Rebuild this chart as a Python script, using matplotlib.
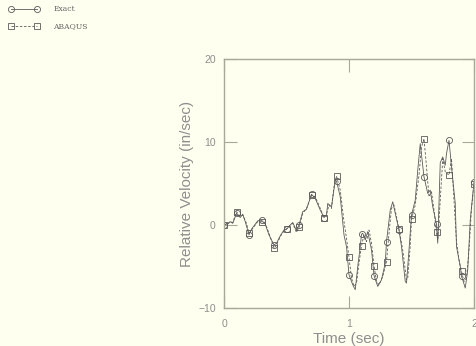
import numpy as np
import matplotlib
matplotlib.use("Agg")
import matplotlib.pyplot as plt

# relative velocity histories (time in sec, velocity in in/sec)
t_exact = [0.00, 0.03, 0.05, 0.07, 0.10, 0.13, 0.15, 0.17, 0.20, 0.22,
           0.25, 0.27, 0.30, 0.33, 0.36, 0.40, 0.42, 0.45, 0.48, 0.50,
           0.53, 0.55, 0.58, 0.60, 0.63, 0.66, 0.70, 0.73, 0.77, 0.80,
           0.82, 0.83, 0.86, 0.89, 0.90, 0.93, 0.96, 0.98, 1.00, 1.03,
           1.05, 1.07, 1.09, 1.10, 1.11, 1.13, 1.15, 1.18, 1.20, 1.23,
           1.26, 1.29, 1.30, 1.33, 1.35, 1.37, 1.40, 1.42, 1.45, 1.46,
           1.48, 1.50, 1.53, 1.55, 1.57, 1.60, 1.63, 1.65, 1.67, 1.70,
           1.71, 1.73, 1.75, 1.77, 1.78, 1.80, 1.82, 1.85, 1.86, 1.89,
           1.90, 1.91, 1.93, 1.95, 1.97, 2.00]
v_exact = [0.0, 0.2, 0.4, 0.2, 1.4, 0.9, 1.3, 0.4, -1.2, -0.5,
           0.1, 0.5, 0.6, 0.1, -1.2, -2.4, -2.2, -1.3, -0.6, -0.5,
           0.0, 0.3, -0.7, 0.0, 1.6, 1.9, 3.7, 3.2, 1.8, 0.9,
           1.2, 2.6, 2.2, 5.4, 5.3, 3.4, -1.2, -2.6, -6.0, -7.2,
           -7.8, -5.0, -2.6, -1.1, -1.0, -1.8, -0.8, -3.0, -6.1, -7.4,
           -6.6, -4.6, -2.0, 1.8, 2.8, 1.4, -0.6, -2.6, -6.8, -7.0,
           -3.0, 1.2, 3.0, 6.6, 9.8, 5.8, 3.8, 4.2, 2.2, 0.1,
           -2.2, 7.5, 8.2, 7.2, 8.6, 10.2, 7.0, 2.6, -2.6, -5.0,
           -6.2, -6.6, -7.6, -5.4, 0.6, 5.2]

t_abaqus = [0.00, 0.03, 0.05, 0.07, 0.10, 0.13, 0.15, 0.18, 0.20, 0.22,
            0.25, 0.27, 0.30, 0.33, 0.36, 0.40, 0.42, 0.45, 0.48, 0.50,
            0.53, 0.55, 0.58, 0.60, 0.63, 0.66, 0.70, 0.73, 0.77, 0.80,
            0.82, 0.84, 0.86, 0.88, 0.90, 0.93, 0.96, 0.98, 1.00, 1.02,
            1.04, 1.06, 1.08, 1.10, 1.12, 1.14, 1.16, 1.18, 1.20, 1.22,
            1.24, 1.27, 1.30, 1.32, 1.34, 1.36, 1.38, 1.40, 1.43, 1.46,
            1.47, 1.49, 1.50, 1.53, 1.56, 1.58, 1.60, 1.62, 1.64, 1.66,
            1.68, 1.70, 1.71, 1.73, 1.75, 1.77, 1.80, 1.82, 1.84, 1.86,
            1.88, 1.90, 1.92, 1.94, 1.96, 1.98, 2.00]
v_abaqus = [0.0, 0.1, 0.4, 0.3, 1.6, 1.0, 1.2, 0.2, -1.0, -0.6,
            0.0, 0.4, 0.4, 0.2, -1.0, -2.8, -2.4, -1.4, -0.7, -0.5,
            0.0, 0.2, -0.9, -0.3, 1.4, 2.0, 3.6, 3.4, 2.0, 0.9,
            1.3, 2.4, 2.0, 4.6, 5.9, 4.2, 0.4, -1.6, -3.9, -6.4,
            -7.4, -7.0, -4.6, -2.5, -1.2, -2.0, -0.6, -2.2, -4.9, -6.8,
            -7.2, -6.2, -4.4, -1.0, 2.0, 2.4, 1.0, -0.5, -3.0, -6.6,
            -6.4, -2.5, 0.7, 2.4, 6.0, 9.4, 10.4, 7.0, 3.4, 4.0,
            1.8, -0.9, -1.8, 3.0, 8.0, 6.4, 6.0, 8.0, 3.0, -2.0,
            -4.2, -5.6, -6.8, -6.4, -3.0, 2.0, 4.9]

x_ticks = [0, 1, 2]
y_ticks = [-10, 0, 10, 20]

bg = "#fffff0"
frame = "#a8a898"
text_grey = "#8e8e8e"
ink = "#5a5a5a"

plt.rcParams["font.family"] = ["Liberation Sans", "DejaVu Sans"]


def tenth_marks(t):
    # put a marker on every sample that falls on a 0.1 sec step
    t = np.asarray(t)
    return list(np.where(np.isclose(t * 10, np.round(t * 10)))[0])


fig = plt.figure(figsize=(4.76, 3.46), dpi=100, facecolor=bg)
ax = fig.add_axes([224 / 476, 38 / 346, 250 / 476, 249 / 346], facecolor=bg)

ln_exact, = ax.plot(t_exact, v_exact, color=ink, lw=0.6,
                    marker="o", ms=4.4, mfc="none", mec=ink, mew=0.6,
                    markevery=tenth_marks(t_exact), label="Exact")
ln_abaqus, = ax.plot(t_abaqus, v_abaqus, color=ink, lw=0.6, ls=(0, (3, 2)),
                     marker="s", ms=4.2, mfc="none", mec=ink, mew=0.6,
                     markevery=tenth_marks(t_abaqus), label="ABAQUS")

ax.set_xlim(0, 2)
ax.set_ylim(-10, 20)
ax.set_xticks(x_ticks)
ax.set_yticks(y_ticks)
ax.tick_params(direction="in", length=9, width=0.8, color=frame,
               labelcolor=text_grey, labelsize=7.5, top=True, right=True)
ax.tick_params(axis="x", pad=8)
ax.tick_params(axis="y", pad=6)
for s in ax.spines.values():
    s.set_color(frame)
    s.set_linewidth(1.0)

ax.set_xlabel("Time (sec)", color=text_grey, fontsize=11, labelpad=2)
ax.set_ylabel("Relative Velocity (in/sec)", color=text_grey, fontsize=11,
              labelpad=3)

leg = fig.legend(handles=[ln_exact, ln_abaqus], loc="upper left",
                 bbox_to_anchor=(0.008, 1.0), frameon=False, numpoints=2,
                 handlelength=4.0, handletextpad=1.8,
                 labelspacing=1.2, borderaxespad=0.3,
                 prop={"family": "DejaVu Serif", "size": 5.5})
for txt in leg.get_texts():
    txt.set_color("#666666")

fig.savefig("out.png", dpi=100, facecolor=bg)
